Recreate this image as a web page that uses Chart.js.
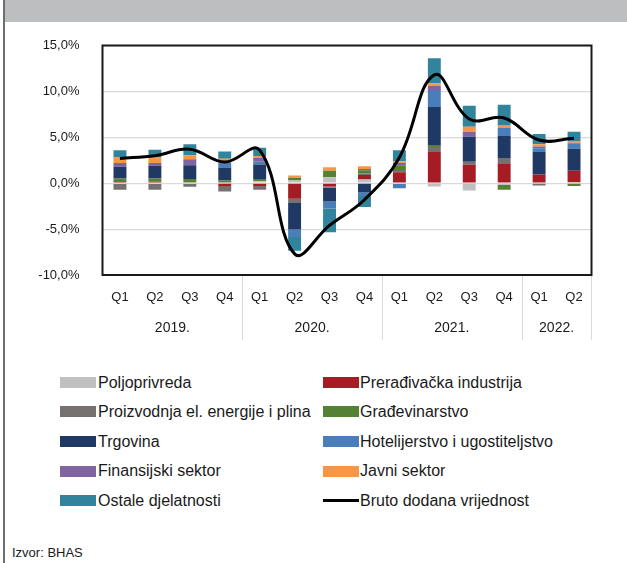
<!DOCTYPE html>
<html>
<head>
<meta charset="utf-8">
<script src="https://cdn.jsdelivr.net/npm/chart.js@4/dist/chart.umd.min.js"></script>
<style>
  html, body { margin: 0; padding: 0; background: #fff; }
  body { width: 627px; height: 563px; position: relative; overflow: hidden; font-family: "Liberation Sans", Arial, sans-serif; color: #1a1a1a; }
  #band { position: absolute; left: 4px; top: 0; width: 623px; height: 22px; background: #bdbec0; }
  #edge { position: absolute; left: 3px; top: 0; width: 1.5px; height: 563px; background: #6d6e70; }
  #wrap { position: absolute; left: 0; top: 0; width: 627px; height: 360px; }
  .lg { position: absolute; font-size: 16px; line-height: 18px; white-space: nowrap; }
  .sw { position: absolute; width: 36px; }
  #src { position: absolute; left: 12px; top: 545px; font-size: 13px; }
</style>
</head>
<body>
<div id="band"></div>
<div id="edge"></div>
<div id="wrap"><canvas id="chart" width="627" height="360"></canvas></div>
<div id="legend"></div>
<div id="src">Izvor: BHAS</div>
<script>
const quarters = ['Q1', 'Q2', 'Q3', 'Q4', 'Q1', 'Q2', 'Q3', 'Q4', 'Q1', 'Q2', 'Q3', 'Q4', 'Q1', 'Q2'];
const years = ['2019.', '2020.', '2021.', '2022.'];
const yearSpan = [4, 4, 4, 2];

const poljoprivreda = [-0.1, -0.1, -0.1, 0, 0.2, 0.3, 0.65, 0.4, -0.1, -0.35, -0.8, -0.2, -0.05, 0.1];
const preradjivacka = [0.2, 0.15, 0.1, -0.3, -0.3, -1.7, -0.35, 0.5, 1.2, 3.4, 2.0, 2.1, 0.95, 1.25];
const energija = [-0.6, -0.6, -0.3, -0.6, -0.4, -0.45, -0.15, 0.15, 0.25, 0.55, 0.35, 0.65, -0.2, 0];
const gradjevinarstvo = [0.3, 0.35, 0.35, 0.3, 0.25, 0.3, 0.7, 0.35, 0.5, 0.2, 0, -0.5, 0, -0.3];
const trgovina = [1.3, 1.4, 1.5, 1.4, 1.6, -2.9, -1.5, -1.0, 0, 4.15, 2.7, 2.4, 2.5, 2.4];
const hotelijerstvo = [0, 0, 0, 0.55, 0.3, -0.8, -0.75, -0.4, -0.45, 1.75, 0, 0.85, 0.35, 0.55];
const finansijski = [0.4, 0.3, 0.65, 0, 0.4, 0, 0, 0.15, 0.25, 0.55, 0.55, 0, 0.2, 0.1];
const javni = [0.6, 0.6, 0.45, 0.4, 0.2, 0.25, 0.4, 0.3, 0.2, 0.3, 0.55, 0.35, 0.25, 0.2];
const ostale = [0.8, 0.85, 1.2, 0.8, 0.9, -1.5, -2.6, -1.2, 1.2, 2.7, 2.3, 2.2, 1.1, 1.0];
const bdv = [2.7, 3.0, 3.7, 2.3, 3.6, -7.7, -4.6, -1.8, 2.8, 11.8, 7.0, 7.1, 4.7, 4.9];

const yTicks = [-10, -5, 0, 5, 10, 15];

function bar(label, data, color) {
  return { type: 'bar', label: label, data: data, backgroundColor: color, borderWidth: 0,
    barPercentage: 0.37, categoryPercentage: 1, stack: 'bdv', order: 1 };
}

const datasets = [
  bar('Poljoprivreda', poljoprivreda, '#c0c0c0'),
  bar('Prerađivačka industrija', preradjivacka, '#a51c24'),
  bar('Proizvodnja el. energije i plina', energija, '#767171'),
  bar('Građevinarstvo', gradjevinarstvo, '#548235'),
  bar('Trgovina', trgovina, '#1f3864'),
  bar('Hotelijerstvo i ugostiteljstvo', hotelijerstvo, '#4a7ebb'),
  bar('Finansijski sektor', finansijski, '#8064a2'),
  bar('Javni sektor', javni, '#f79646'),
  bar('Ostale djelatnosti', ostale, '#31849b'),
  { type: 'line', label: 'Bruto dodana vrijednost', data: bdv, borderColor: '#000', backgroundColor: '#000',
    borderWidth: 3, pointRadius: 0, tension: 0.4, stack: 'line', order: -1 }
];

// frame, year row and separators under the axis
const extras = {
  id: 'extras',
  beforeDatasetsDraw(chart) {
    const a = chart.chartArea, ctx = chart.ctx;
    ctx.save();
    ctx.strokeStyle = '#1a1a1a';
    ctx.lineWidth = 2;
    ctx.strokeRect(a.left, a.top, a.right - a.left, a.bottom - a.top);
    ctx.restore();
  },
  afterDraw(chart) {
    const x = chart.scales.x, a = chart.chartArea, ctx = chart.ctx;
    const step = x.getPixelForValue(1) - x.getPixelForValue(0);
    ctx.save();
    ctx.strokeStyle = '#d9d9d9';
    ctx.lineWidth = 1;
    ctx.fillStyle = '#1a1a1a';
    ctx.font = '14px "Liberation Sans", Arial, sans-serif';
    ctx.textAlign = 'center';
    ctx.textBaseline = 'middle';
    let start = 0;
    years.forEach((y, i) => {
      const end = start + yearSpan[i] - 1;
      const l = x.getPixelForValue(start) - step / 2;
      const r = x.getPixelForValue(end) + step / 2;
      ctx.fillText(y, (l + r) / 2, 328);
      ctx.beginPath();
      ctx.moveTo(Math.round(r) + 0.5, a.bottom + 1);
      ctx.lineTo(Math.round(r) + 0.5, 340);
      ctx.stroke();
      start = end + 1;
    });
    ctx.restore();
  }
};

const chart = new Chart(document.getElementById('chart'), {
  data: { labels: quarters, datasets: datasets },
  options: {
    responsive: false,
    animation: false,
    layout: { padding: { left: 0, top: 45.5, right: 35.5, bottom: 0 } },
    plugins: { legend: { display: false }, tooltip: { enabled: false } },
    scales: {
      x: {
        stacked: true,
        offset: true,
        grid: { display: false, drawTicks: false },
        border: { display: false },
        ticks: { color: '#1a1a1a', font: { size: 13, family: '"Liberation Sans", Arial, sans-serif' }, padding: 15, maxRotation: 0, autoSkip: false },
        afterFit(s) { s.height = 85; }
      },
      y: {
        stacked: true,
        min: -10,
        max: 15,
        afterBuildTicks(s) { s.ticks = yTicks.map(v => ({ value: v })); },
        grid: { color: '#d9d9d9', drawTicks: false, lineWidth: 1.2 },
        border: { display: false },
        ticks: {
          color: '#1a1a1a',
          font: { size: 13, family: '"Liberation Sans", Arial, sans-serif' },
          padding: 23,
          callback: v => v.toFixed(1).replace('.', ',') + '%'
        },
        afterFit(s) { s.width = 102.5; }
      }
    }
  },
  plugins: [extras]
});

// two-column legend built from the datasets
const legend = document.getElementById('legend');
const rowY = [382.5, 411.7, 441.5, 471, 500.5];
chart.data.datasets.forEach((d, i) => {
  const row = Math.floor(i / 2), col = i % 2;
  const swX = col ? 323 : 60, txX = col ? 360 : 98;
  const sw = document.createElement('div');
  sw.className = 'sw';
  sw.style.left = swX + 'px';
  if (d.type === 'line') {
    sw.style.top = (rowY[row] - 1.5) + 'px';
    sw.style.height = '3px';
    sw.style.background = d.borderColor;
  } else {
    sw.style.top = (rowY[row] - 5.5) + 'px';
    sw.style.height = '11px';
    sw.style.background = d.backgroundColor;
  }
  legend.appendChild(sw);
  const t = document.createElement('div');
  t.className = 'lg';
  t.style.left = txX + 'px';
  t.style.top = (rowY[row] - 9) + 'px';
  t.textContent = d.label;
  legend.appendChild(t);
});
</script>
</body>
</html>
